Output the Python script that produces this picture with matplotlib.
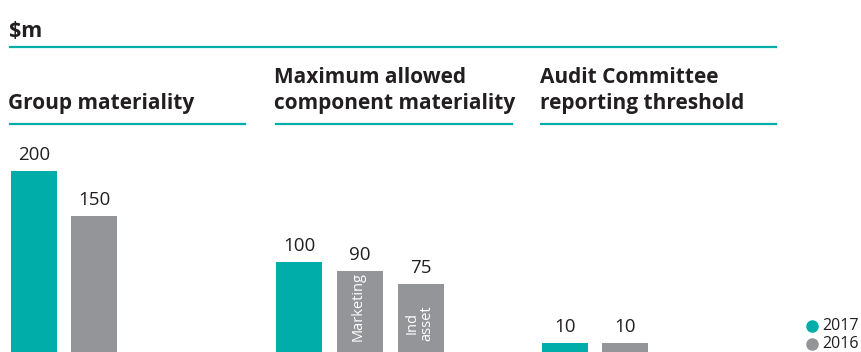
import matplotlib.pyplot as plt
from matplotlib.lines import Line2D

# values in $m
group_vals = [200, 150]
component_vals = [100, 90, 75]
component_notes = ["", "Marketing", "Ind\nasset"]
threshold_vals = [10, 10]
years = ["2017", "2016"]

TEAL = "#00ADA8"
GREY = "#939598"
INK = "#231F20"
FONT = "Open Sans"

W, H = 862, 352
fig = plt.figure(figsize=(W / 100, H / 100), dpi=100)

px_per_unit = 0.905
bar_w = 46
ymax = 200


def panel(left_px, vals, colors, spacing=60, notes=None):
    n = len(vals)
    w = bar_w / spacing
    width_px = spacing * (n - 1) + bar_w
    ax = fig.add_axes([left_px / W, 0, width_px / W, ymax * px_per_unit / H])
    x = list(range(n))
    ax.bar(x, vals, width=w, color=colors)
    ax.set_xlim(-w / 2, n - 1 + w / 2)
    ax.set_ylim(0, ymax)
    ax.axis("off")
    for xi, v in zip(x, vals):
        ax.annotate(str(v), (xi, v), xytext=(0, 5), textcoords="offset points",
                    ha="center", va="bottom", fontsize=13.5, color=INK,
                    family=FONT, annotation_clip=False)
    if notes:
        for xi, t in zip(x, notes):
            if t:
                ax.text(xi - 0.03, 12, t, rotation=90, ha="center", va="bottom",
                        fontsize=10.5, color="white", family=FONT,
                        linespacing=0.95)
    return ax


panel(11, group_vals, [TEAL, GREY])
panel(276, component_vals, [TEAL, GREY, GREY], spacing=61, notes=component_notes)
panel(542, threshold_vals, [TEAL, GREY])

# headings and rules
fig.text(9 / W, 1 - 37 / H, "$m", fontsize=15.5, fontweight="bold", color=INK,
         family=FONT, va="baseline")
fig.add_artist(Line2D([10 / W, 776 / W], [1 - 47 / H] * 2, color=TEAL, lw=1.6))

headings = [(8, "Group materiality"),
            (274, "Maximum allowed\ncomponent materiality"),
            (540, "Audit Committee\nreporting threshold")]
for x0, txt in headings:
    fig.text(x0 / W, 1 - 109 / H, txt, fontsize=15, fontweight="bold",
             color=INK, family=FONT, va="baseline", linespacing=1.3)

for x0, x1 in [(10, 245), (276, 512), (541, 776)]:
    fig.add_artist(Line2D([x0 / W, x1 / W], [1 - 124 / H] * 2, color=TEAL, lw=1.6))

# legend
for i, (yr, c) in enumerate(zip(years, [TEAL, GREY])):
    y = 1 - (326 + 18 * i) / H
    fig.add_artist(Line2D([812 / W], [y], marker="o", markersize=8,
                          color=c, lw=0))
    fig.text(822 / W, y, yr, fontsize=11.5, color=INK, family=FONT, va="center")

fig.savefig("out.png", dpi=100)
